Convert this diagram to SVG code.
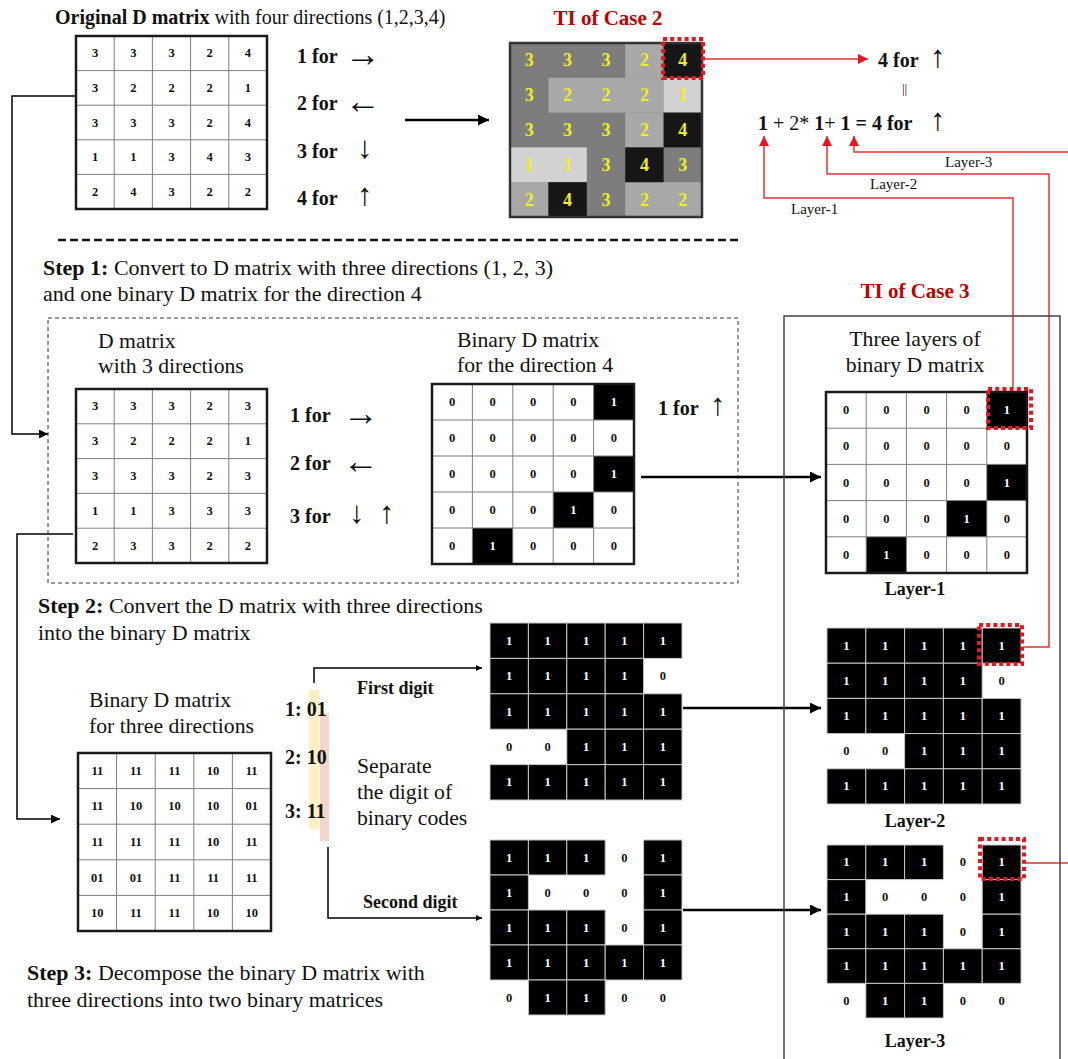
<svg xmlns="http://www.w3.org/2000/svg" width="1068" height="1059" viewBox="0 0 1068 1059">
<defs>
<style>
text{font-family:"Liberation Serif","DejaVu Serif",serif;fill:#111}
.n{font-size:12.5px;font-weight:bold;text-anchor:middle;dominant-baseline:central}
.w{fill:#fff}
.y{font-size:18px;font-weight:bold;text-anchor:middle;dominant-baseline:central;fill:#f2ee1c}
.ob{fill:none;stroke:#1a1a1a;stroke-width:2.5}
.gl{fill:none;stroke:#7f7f7f;stroke-width:1}
.bk{fill:#000;stroke:#c8c8c8;stroke-width:1}
.lab{font-size:20px;font-weight:bold}
.reg{font-size:21.7px}
.st{font-size:22px}
.b{font-weight:bold}
.ah{font-weight:normal;font-size:36px}
.av{font-weight:normal;font-size:31px}
.red{fill:#c00000;font-size:21px;font-weight:bold;text-anchor:middle}
.rd{fill:none;stroke:#e8141e;stroke-width:4;stroke-dasharray:4 3.2}
.cb{fill:none;stroke:#000;stroke-width:2.5}
.ct{fill:none;stroke:#000;stroke-width:1.5}
.cr{fill:none;stroke:#e83030;stroke-width:1.5}
.ll{font-size:15px}
.lay{font-size:18px;font-weight:bold;text-anchor:middle}
</style>
<marker id="ab" viewBox="0 0 10 10" refX="10" refY="5" markerWidth="14" markerHeight="11" markerUnits="userSpaceOnUse" orient="auto"><path d="M0,0 L10,5 L0,10 z" fill="#000"/></marker>
<marker id="at" viewBox="0 0 10 10" refX="10" refY="5" markerWidth="12" markerHeight="9" markerUnits="userSpaceOnUse" orient="auto"><path d="M0,0 L10,5 L0,10 z" fill="#000"/></marker>
<marker id="as" viewBox="0 0 10 10" refX="10" refY="5" markerWidth="9" markerHeight="6" markerUnits="userSpaceOnUse" orient="auto"><path d="M0,0 L10,5 L0,10 z" fill="#000"/></marker>
<marker id="ar" viewBox="0 0 10 10" refX="10" refY="5" markerWidth="12" markerHeight="10" markerUnits="userSpaceOnUse" orient="auto"><path d="M0,0 L10,5 L0,10 z" fill="#e8141e"/></marker>
</defs>
<rect width="1068" height="1059" fill="#fff"/>

<!-- connectors -->
<g id="connectors">
<path class="cb" d="M405 120H489" marker-end="url(#ab)"/>
<path class="cb" d="M641 477H821" marker-end="url(#ab)"/>
<path class="cb" d="M683 708H821" marker-end="url(#ab)"/>
<path class="cb" d="M683 910H821" marker-end="url(#ab)"/>
<path class="ct" d="M76 96H12V434H48" marker-end="url(#at)"/>
<path class="ct" d="M73 534H17V819H60" marker-end="url(#at)"/>
<path class="ct" d="M314 683V668H482" marker-end="url(#as)"/>
<path class="ct" d="M328 847V918H482" marker-end="url(#as)"/>
<path class="cr" d="M705 59H868" marker-end="url(#ar)"/>
<path class="cr" d="M1013 388V198H764V136" marker-end="url(#ar)"/>
<path class="cr" d="M1023 647H1049V174H827V136" marker-end="url(#ar)"/>
<path class="cr" d="M1025 863H1069V152H854V136" marker-end="url(#ar)"/>
</g>

<!-- texts / headers -->
<g id="headers">
<text x="55" y="24" style="font-size:20px"><tspan class="b">Original D matrix</tspan> with four directions (1,2,3,4)</text>
<text class="red" x="608" y="25">TI of Case 2</text>
<text class="red" x="915" y="298">TI of Case 3</text>
<path d="M58 240H738" fill="none" stroke="#111" stroke-width="2.5" stroke-dasharray="8 4"/>
<text class="st" x="43" y="275"><tspan class="b">Step 1:</tspan> Convert to D matrix with three directions (1, 2, 3)</text>
<text class="st" x="43" y="301">and one binary D matrix for the direction 4</text>
<text class="st" x="38" y="613"><tspan class="b">Step 2:</tspan> Convert the D matrix with three directions</text>
<text class="st" x="38" y="640">into the binary D matrix</text>
<text class="st" x="27" y="980"><tspan class="b">Step 3:</tspan> Decompose the binary D matrix with</text>
<text class="st" x="27" y="1007">three directions into two binary matrices</text>
</g>

<g id="legend1">
<text class="lab" x="297" y="63">1 for <tspan class="ah" x="345" dy="3">→</tspan></text>
<text class="lab" x="297" y="110">2 for <tspan class="ah" x="345" dy="3">←</tspan></text>
<text class="lab" x="297" y="158">3 for <tspan class="av" x="357">↓</tspan></text>
<text class="lab" x="297" y="205">4 for <tspan class="av" x="357">↑</tspan></text>
</g>

<g id="equation">
<text class="lab" x="878" y="67">4 for <tspan class="av" x="930">↑</tspan></text>
<text x="902" y="93" style="font-size:13px">||</text>
<text x="758" y="130" style="font-size:20px"><tspan class="b">1</tspan> + 2* <tspan class="b">1</tspan>+ <tspan class="b">1 = 4 for</tspan> <tspan class="av" x="930">↑</tspan></text>
<text class="ll" x="945" y="167">Layer-3</text>
<text class="ll" x="870" y="189">Layer-2</text>
<text class="ll" x="791" y="214">Layer-1</text>
</g>

<!-- Original D matrix -->
<g id="m1" transform="translate(76,36)">
<path class="gl" d="M38.2 0V173M76.4 0V173M114.6 0V173M152.8 0V173M0 34.6H191M0 69.2H191M0 103.8H191M0 138.4H191"/>
<rect class="ob" width="191" height="173"/>
<text class="n" x="19.1" y="17.3">3</text><text class="n" x="57.3" y="17.3">3</text><text class="n" x="95.5" y="17.3">3</text><text class="n" x="133.7" y="17.3">2</text><text class="n" x="171.9" y="17.3">4</text>
<text class="n" x="19.1" y="51.9">3</text><text class="n" x="57.3" y="51.9">2</text><text class="n" x="95.5" y="51.9">2</text><text class="n" x="133.7" y="51.9">2</text><text class="n" x="171.9" y="51.9">1</text>
<text class="n" x="19.1" y="86.5">3</text><text class="n" x="57.3" y="86.5">3</text><text class="n" x="95.5" y="86.5">3</text><text class="n" x="133.7" y="86.5">2</text><text class="n" x="171.9" y="86.5">4</text>
<text class="n" x="19.1" y="121.1">1</text><text class="n" x="57.3" y="121.1">1</text><text class="n" x="95.5" y="121.1">3</text><text class="n" x="133.7" y="121.1">4</text><text class="n" x="171.9" y="121.1">3</text>
<text class="n" x="19.1" y="155.7">2</text><text class="n" x="57.3" y="155.7">4</text><text class="n" x="95.5" y="155.7">3</text><text class="n" x="133.7" y="155.7">2</text><text class="n" x="171.9" y="155.7">2</text>
</g>

<!-- TI of case 2 -->
<g id="ti2" transform="translate(510,43)">
<rect width="192" height="174" fill="#7d7d7d"/>
<g fill="#a8a8a8">
<rect x="115.2" y="0" width="38.4" height="34.8"/>
<rect x="38.4" y="34.8" width="115.2" height="34.8"/>
<rect x="115.2" y="69.6" width="38.4" height="34.8"/>
<rect x="0" y="139.2" width="38.4" height="34.8"/>
<rect x="115.2" y="139.2" width="76.8" height="34.8"/>
</g>
<g fill="#d2d2d2">
<rect x="153.6" y="34.8" width="38.4" height="34.8"/>
<rect x="0" y="104.4" width="76.8" height="34.8"/>
</g>
<g fill="#161616">
<rect x="153.6" y="0" width="38.4" height="34.8"/>
<rect x="153.6" y="69.6" width="38.4" height="34.8"/>
<rect x="115.2" y="104.4" width="38.4" height="34.8"/>
<rect x="38.4" y="139.2" width="38.4" height="34.8"/>
</g>
<rect width="192" height="174" fill="none" stroke="#333" stroke-width="2.5"/>
<text class="y" x="19.2" y="17.4">3</text><text class="y" x="57.6" y="17.4">3</text><text class="y" x="96" y="17.4">3</text><text class="y" x="134.4" y="17.4">2</text><text class="y" x="172.8" y="17.4">4</text>
<text class="y" x="19.2" y="52.2">3</text><text class="y" x="57.6" y="52.2">2</text><text class="y" x="96" y="52.2">2</text><text class="y" x="134.4" y="52.2">2</text><text class="y" x="172.8" y="52.2">1</text>
<text class="y" x="19.2" y="87">3</text><text class="y" x="57.6" y="87">3</text><text class="y" x="96" y="87">3</text><text class="y" x="134.4" y="87">2</text><text class="y" x="172.8" y="87">4</text>
<text class="y" x="19.2" y="121.8">1</text><text class="y" x="57.6" y="121.8">1</text><text class="y" x="96" y="121.8">3</text><text class="y" x="134.4" y="121.8">4</text><text class="y" x="172.8" y="121.8">3</text>
<text class="y" x="19.2" y="156.6">2</text><text class="y" x="57.6" y="156.6">4</text><text class="y" x="96" y="156.6">3</text><text class="y" x="134.4" y="156.6">2</text><text class="y" x="172.8" y="156.6">2</text>
<rect class="rd" x="153" y="-4" width="40" height="39"/>
</g>

<!-- Step 1 dashed box -->
<g id="step1box">
<rect x="48" y="318" width="690" height="265" fill="none" stroke="#333" stroke-width="1" stroke-dasharray="4 3"/>
<text class="reg" x="98" y="348">D matrix</text>
<text class="reg" x="98" y="373">with 3 directions</text>
<text class="reg" x="457" y="347">Binary D matrix</text>
<text class="reg" x="457" y="372">for the direction 4</text>
<text class="lab" x="290" y="422">1 for <tspan class="ah" x="343" dy="3">→</tspan></text>
<text class="lab" x="290" y="470">2 for <tspan class="ah" x="343" dy="3">←</tspan></text>
<text class="lab" x="290" y="523">3 for <tspan class="av" x="349">↓</tspan><tspan class="av" x="379">↑</tspan></text>
<text class="lab" x="658" y="415">1 for <tspan class="av" x="710">↑</tspan></text>
</g>

<!-- D matrix with 3 directions -->
<g id="m2" transform="translate(76,389)">
<path class="gl" d="M38.2 0V174M76.4 0V174M114.6 0V174M152.8 0V174M0 34.8H191M0 69.6H191M0 104.4H191M0 139.2H191"/>
<rect class="ob" width="191" height="174"/>
<text class="n" x="19.1" y="17.4">3</text><text class="n" x="57.3" y="17.4">3</text><text class="n" x="95.5" y="17.4">3</text><text class="n" x="133.7" y="17.4">2</text><text class="n" x="171.9" y="17.4">3</text>
<text class="n" x="19.1" y="52.2">3</text><text class="n" x="57.3" y="52.2">2</text><text class="n" x="95.5" y="52.2">2</text><text class="n" x="133.7" y="52.2">2</text><text class="n" x="171.9" y="52.2">1</text>
<text class="n" x="19.1" y="87">3</text><text class="n" x="57.3" y="87">3</text><text class="n" x="95.5" y="87">3</text><text class="n" x="133.7" y="87">2</text><text class="n" x="171.9" y="87">3</text>
<text class="n" x="19.1" y="121.8">1</text><text class="n" x="57.3" y="121.8">1</text><text class="n" x="95.5" y="121.8">3</text><text class="n" x="133.7" y="121.8">3</text><text class="n" x="171.9" y="121.8">3</text>
<text class="n" x="19.1" y="156.6">2</text><text class="n" x="57.3" y="156.6">3</text><text class="n" x="95.5" y="156.6">3</text><text class="n" x="133.7" y="156.6">2</text><text class="n" x="171.9" y="156.6">2</text>
</g>

<!-- Binary D matrix for direction 4 -->
<g id="m3" transform="translate(432,384)">
<rect x="161.6" y="0" width="40.4" height="36" fill="#000"/>
<rect x="161.6" y="72" width="40.4" height="36" fill="#000"/>
<rect x="121.2" y="108" width="40.4" height="36" fill="#000"/>
<rect x="40.4" y="144" width="40.4" height="36" fill="#000"/>
<path class="gl" d="M40.4 0V180M80.8 0V180M121.2 0V180M161.6 0V180M0 36H202M0 72H202M0 108H202M0 144H202"/>
<rect class="ob" width="202" height="180"/>
<text class="n" x="20.2" y="18">0</text><text class="n" x="60.6" y="18">0</text><text class="n" x="101" y="18">0</text><text class="n" x="141.4" y="18">0</text><text class="n w" x="181.8" y="18">1</text>
<text class="n" x="20.2" y="54">0</text><text class="n" x="60.6" y="54">0</text><text class="n" x="101" y="54">0</text><text class="n" x="141.4" y="54">0</text><text class="n" x="181.8" y="54">0</text>
<text class="n" x="20.2" y="90">0</text><text class="n" x="60.6" y="90">0</text><text class="n" x="101" y="90">0</text><text class="n" x="141.4" y="90">0</text><text class="n w" x="181.8" y="90">1</text>
<text class="n" x="20.2" y="126">0</text><text class="n" x="60.6" y="126">0</text><text class="n" x="101" y="126">0</text><text class="n w" x="141.4" y="126">1</text><text class="n" x="181.8" y="126">0</text>
<text class="n" x="20.2" y="162">0</text><text class="n w" x="60.6" y="162">1</text><text class="n" x="101" y="162">0</text><text class="n" x="141.4" y="162">0</text><text class="n" x="181.8" y="162">0</text>
</g>

<!-- TI of Case 3 box -->
<g id="ti3">
<rect x="784" y="316" width="276" height="760" fill="none" stroke="#444" stroke-width="1.5"/>
<text class="reg" x="915" y="346" text-anchor="middle">Three layers of</text>
<text class="reg" x="915" y="372" text-anchor="middle">binary D matrix</text>
<text class="lay" x="915" y="595">Layer-1</text>
<text class="lay" x="915" y="827">Layer-2</text>
<text class="lay" x="915" y="1047">Layer-3</text>
</g>

<!-- Layer-1 -->
<g id="layer1" transform="translate(826,392)">
<rect x="160.8" y="0" width="40.2" height="36.2" fill="#000"/>
<rect x="160.8" y="72.4" width="40.2" height="36.2" fill="#000"/>
<rect x="120.6" y="108.6" width="40.2" height="36.2" fill="#000"/>
<rect x="40.2" y="144.8" width="40.2" height="36.2" fill="#000"/>
<path class="gl" d="M40.2 0V181M80.4 0V181M120.6 0V181M160.8 0V181M0 36.2H201M0 72.4H201M0 108.6H201M0 144.8H201"/>
<rect class="ob" width="201" height="181"/>
<text class="n" x="20.1" y="18.1">0</text><text class="n" x="60.3" y="18.1">0</text><text class="n" x="100.5" y="18.1">0</text><text class="n" x="140.7" y="18.1">0</text><text class="n w" x="180.9" y="18.1">1</text>
<text class="n" x="20.1" y="54.3">0</text><text class="n" x="60.3" y="54.3">0</text><text class="n" x="100.5" y="54.3">0</text><text class="n" x="140.7" y="54.3">0</text><text class="n" x="180.9" y="54.3">0</text>
<text class="n" x="20.1" y="90.5">0</text><text class="n" x="60.3" y="90.5">0</text><text class="n" x="100.5" y="90.5">0</text><text class="n" x="140.7" y="90.5">0</text><text class="n w" x="180.9" y="90.5">1</text>
<text class="n" x="20.1" y="126.7">0</text><text class="n" x="60.3" y="126.7">0</text><text class="n" x="100.5" y="126.7">0</text><text class="n w" x="140.7" y="126.7">1</text><text class="n" x="180.9" y="126.7">0</text>
<text class="n" x="20.1" y="162.9">0</text><text class="n w" x="60.3" y="162.9">1</text><text class="n" x="100.5" y="162.9">0</text><text class="n" x="140.7" y="162.9">0</text><text class="n" x="180.9" y="162.9">0</text>
<rect class="rd" x="162" y="-3" width="43" height="39"/>
</g>

<!-- Step 2 region -->
<g id="step2labels">
<text class="reg" x="89" y="707">Binary D matrix</text>
<text class="reg" x="89" y="733">for three directions</text>
<rect x="309" y="690" width="10" height="139" fill="#fcefc2"/>
<rect x="320" y="713" width="9" height="128" fill="#f6d6ca"/>
<text class="lab" x="285" y="716">1: 01</text>
<text class="lab" x="285" y="764">2: 10</text>
<text class="lab" x="285" y="818">3: 11</text>
<text x="357" y="694" style="font-size:18px;font-weight:bold">First digit</text>
<text x="363" y="908" style="font-size:18px;font-weight:bold">Second digit</text>
<text class="reg" x="357" y="773">Separate</text>
<text class="reg" x="357" y="799">the digit of</text>
<text class="reg" x="357" y="825">binary codes</text>
</g>

<!-- Binary D matrix for three directions -->
<g id="m4" transform="translate(78,753)">
<path class="gl" d="M38.6 0V178M77.2 0V178M115.8 0V178M154.4 0V178M0 35.6H193M0 71.2H193M0 106.8H193M0 142.4H193"/>
<rect class="ob" width="193" height="178"/>
<text class="n" x="19.3" y="17.8">11</text><text class="n" x="57.9" y="17.8">11</text><text class="n" x="96.5" y="17.8">11</text><text class="n" x="135.1" y="17.8">10</text><text class="n" x="173.7" y="17.8">11</text>
<text class="n" x="19.3" y="53.4">11</text><text class="n" x="57.9" y="53.4">10</text><text class="n" x="96.5" y="53.4">10</text><text class="n" x="135.1" y="53.4">10</text><text class="n" x="173.7" y="53.4">01</text>
<text class="n" x="19.3" y="89">11</text><text class="n" x="57.9" y="89">11</text><text class="n" x="96.5" y="89">11</text><text class="n" x="135.1" y="89">10</text><text class="n" x="173.7" y="89">11</text>
<text class="n" x="19.3" y="124.6">01</text><text class="n" x="57.9" y="124.6">01</text><text class="n" x="96.5" y="124.6">11</text><text class="n" x="135.1" y="124.6">11</text><text class="n" x="173.7" y="124.6">11</text>
<text class="n" x="19.3" y="160.2">10</text><text class="n" x="57.9" y="160.2">11</text><text class="n" x="96.5" y="160.2">11</text><text class="n" x="135.1" y="160.2">10</text><text class="n" x="173.7" y="160.2">10</text>
</g>

<!-- First digit matrix -->
<g id="firstdigit" transform="translate(490,623)">
<rect class="bk" x="0" y="0" width="38.4" height="35.4"/><rect class="bk" x="38.4" y="0" width="38.4" height="35.4"/><rect class="bk" x="76.8" y="0" width="38.4" height="35.4"/><rect class="bk" x="115.2" y="0" width="38.4" height="35.4"/><rect class="bk" x="153.6" y="0" width="38.4" height="35.4"/>
<rect class="bk" x="0" y="35.4" width="38.4" height="35.4"/><rect class="bk" x="38.4" y="35.4" width="38.4" height="35.4"/><rect class="bk" x="76.8" y="35.4" width="38.4" height="35.4"/><rect class="bk" x="115.2" y="35.4" width="38.4" height="35.4"/>
<rect class="bk" x="0" y="70.8" width="38.4" height="35.4"/><rect class="bk" x="38.4" y="70.8" width="38.4" height="35.4"/><rect class="bk" x="76.8" y="70.8" width="38.4" height="35.4"/><rect class="bk" x="115.2" y="70.8" width="38.4" height="35.4"/><rect class="bk" x="153.6" y="70.8" width="38.4" height="35.4"/>
<rect class="bk" x="76.8" y="106.2" width="38.4" height="35.4"/><rect class="bk" x="115.2" y="106.2" width="38.4" height="35.4"/><rect class="bk" x="153.6" y="106.2" width="38.4" height="35.4"/>
<rect class="bk" x="0" y="141.6" width="38.4" height="35.4"/><rect class="bk" x="38.4" y="141.6" width="38.4" height="35.4"/><rect class="bk" x="76.8" y="141.6" width="38.4" height="35.4"/><rect class="bk" x="115.2" y="141.6" width="38.4" height="35.4"/><rect class="bk" x="153.6" y="141.6" width="38.4" height="35.4"/>
<text class="n w" x="19.2" y="17.7">1</text><text class="n w" x="57.6" y="17.7">1</text><text class="n w" x="96" y="17.7">1</text><text class="n w" x="134.4" y="17.7">1</text><text class="n w" x="172.8" y="17.7">1</text>
<text class="n w" x="19.2" y="53.1">1</text><text class="n w" x="57.6" y="53.1">1</text><text class="n w" x="96" y="53.1">1</text><text class="n w" x="134.4" y="53.1">1</text><text class="n" x="172.8" y="53.1">0</text>
<text class="n w" x="19.2" y="88.5">1</text><text class="n w" x="57.6" y="88.5">1</text><text class="n w" x="96" y="88.5">1</text><text class="n w" x="134.4" y="88.5">1</text><text class="n w" x="172.8" y="88.5">1</text>
<text class="n" x="19.2" y="123.9">0</text><text class="n" x="57.6" y="123.9">0</text><text class="n w" x="96" y="123.9">1</text><text class="n w" x="134.4" y="123.9">1</text><text class="n w" x="172.8" y="123.9">1</text>
<text class="n w" x="19.2" y="159.3">1</text><text class="n w" x="57.6" y="159.3">1</text><text class="n w" x="96" y="159.3">1</text><text class="n w" x="134.4" y="159.3">1</text><text class="n w" x="172.8" y="159.3">1</text>
</g>

<!-- Second digit matrix -->
<g id="seconddigit" transform="translate(490,840)">
<rect class="bk" x="0" y="0" width="38.4" height="35"/><rect class="bk" x="38.4" y="0" width="38.4" height="35"/><rect class="bk" x="76.8" y="0" width="38.4" height="35"/><rect class="bk" x="153.6" y="0" width="38.4" height="35"/>
<rect class="bk" x="0" y="35" width="38.4" height="35"/><rect class="bk" x="153.6" y="35" width="38.4" height="35"/>
<rect class="bk" x="0" y="70" width="38.4" height="35"/><rect class="bk" x="38.4" y="70" width="38.4" height="35"/><rect class="bk" x="76.8" y="70" width="38.4" height="35"/><rect class="bk" x="153.6" y="70" width="38.4" height="35"/>
<rect class="bk" x="0" y="105" width="38.4" height="35"/><rect class="bk" x="38.4" y="105" width="38.4" height="35"/><rect class="bk" x="76.8" y="105" width="38.4" height="35"/><rect class="bk" x="115.2" y="105" width="38.4" height="35"/><rect class="bk" x="153.6" y="105" width="38.4" height="35"/>
<rect class="bk" x="38.4" y="140" width="38.4" height="35"/><rect class="bk" x="76.8" y="140" width="38.4" height="35"/>
<text class="n w" x="19.2" y="17.5">1</text><text class="n w" x="57.6" y="17.5">1</text><text class="n w" x="96" y="17.5">1</text><text class="n" x="134.4" y="17.5">0</text><text class="n w" x="172.8" y="17.5">1</text>
<text class="n w" x="19.2" y="52.5">1</text><text class="n" x="57.6" y="52.5">0</text><text class="n" x="96" y="52.5">0</text><text class="n" x="134.4" y="52.5">0</text><text class="n w" x="172.8" y="52.5">1</text>
<text class="n w" x="19.2" y="87.5">1</text><text class="n w" x="57.6" y="87.5">1</text><text class="n w" x="96" y="87.5">1</text><text class="n" x="134.4" y="87.5">0</text><text class="n w" x="172.8" y="87.5">1</text>
<text class="n w" x="19.2" y="122.5">1</text><text class="n w" x="57.6" y="122.5">1</text><text class="n w" x="96" y="122.5">1</text><text class="n w" x="134.4" y="122.5">1</text><text class="n w" x="172.8" y="122.5">1</text>
<text class="n" x="19.2" y="157.5">0</text><text class="n w" x="57.6" y="157.5">1</text><text class="n w" x="96" y="157.5">1</text><text class="n" x="134.4" y="157.5">0</text><text class="n" x="172.8" y="157.5">0</text>
</g>

<!-- Layer-2 -->
<g id="layer2" transform="translate(827,628)">
<rect class="bk" x="0" y="0" width="38.8" height="35.2"/><rect class="bk" x="38.8" y="0" width="38.8" height="35.2"/><rect class="bk" x="77.6" y="0" width="38.8" height="35.2"/><rect class="bk" x="116.4" y="0" width="38.8" height="35.2"/><rect class="bk" x="155.2" y="0" width="38.8" height="35.2"/>
<rect class="bk" x="0" y="35.2" width="38.8" height="35.2"/><rect class="bk" x="38.8" y="35.2" width="38.8" height="35.2"/><rect class="bk" x="77.6" y="35.2" width="38.8" height="35.2"/><rect class="bk" x="116.4" y="35.2" width="38.8" height="35.2"/>
<rect class="bk" x="0" y="70.4" width="38.8" height="35.2"/><rect class="bk" x="38.8" y="70.4" width="38.8" height="35.2"/><rect class="bk" x="77.6" y="70.4" width="38.8" height="35.2"/><rect class="bk" x="116.4" y="70.4" width="38.8" height="35.2"/><rect class="bk" x="155.2" y="70.4" width="38.8" height="35.2"/>
<rect class="bk" x="77.6" y="105.6" width="38.8" height="35.2"/><rect class="bk" x="116.4" y="105.6" width="38.8" height="35.2"/><rect class="bk" x="155.2" y="105.6" width="38.8" height="35.2"/>
<rect class="bk" x="0" y="140.8" width="38.8" height="35.2"/><rect class="bk" x="38.8" y="140.8" width="38.8" height="35.2"/><rect class="bk" x="77.6" y="140.8" width="38.8" height="35.2"/><rect class="bk" x="116.4" y="140.8" width="38.8" height="35.2"/><rect class="bk" x="155.2" y="140.8" width="38.8" height="35.2"/>
<text class="n w" x="19.4" y="17.6">1</text><text class="n w" x="58.2" y="17.6">1</text><text class="n w" x="97" y="17.6">1</text><text class="n w" x="135.8" y="17.6">1</text><text class="n w" x="174.6" y="17.6">1</text>
<text class="n w" x="19.4" y="52.8">1</text><text class="n w" x="58.2" y="52.8">1</text><text class="n w" x="97" y="52.8">1</text><text class="n w" x="135.8" y="52.8">1</text><text class="n" x="174.6" y="52.8">0</text>
<text class="n w" x="19.4" y="88">1</text><text class="n w" x="58.2" y="88">1</text><text class="n w" x="97" y="88">1</text><text class="n w" x="135.8" y="88">1</text><text class="n w" x="174.6" y="88">1</text>
<text class="n" x="19.4" y="123.2">0</text><text class="n" x="58.2" y="123.2">0</text><text class="n w" x="97" y="123.2">1</text><text class="n w" x="135.8" y="123.2">1</text><text class="n w" x="174.6" y="123.2">1</text>
<text class="n w" x="19.4" y="158.4">1</text><text class="n w" x="58.2" y="158.4">1</text><text class="n w" x="97" y="158.4">1</text><text class="n w" x="135.8" y="158.4">1</text><text class="n w" x="174.6" y="158.4">1</text>
<rect class="rd" x="152" y="-3" width="43" height="39"/>
</g>

<!-- Layer-3 -->
<g id="layer3" transform="translate(827,845)">
<rect class="bk" x="0" y="0" width="38.8" height="34.6"/><rect class="bk" x="38.8" y="0" width="38.8" height="34.6"/><rect class="bk" x="77.6" y="0" width="38.8" height="34.6"/><rect class="bk" x="155.2" y="0" width="38.8" height="34.6"/>
<rect class="bk" x="0" y="34.6" width="38.8" height="34.6"/><rect class="bk" x="155.2" y="34.6" width="38.8" height="34.6"/>
<rect class="bk" x="0" y="69.2" width="38.8" height="34.6"/><rect class="bk" x="38.8" y="69.2" width="38.8" height="34.6"/><rect class="bk" x="77.6" y="69.2" width="38.8" height="34.6"/><rect class="bk" x="155.2" y="69.2" width="38.8" height="34.6"/>
<rect class="bk" x="0" y="103.8" width="38.8" height="34.6"/><rect class="bk" x="38.8" y="103.8" width="38.8" height="34.6"/><rect class="bk" x="77.6" y="103.8" width="38.8" height="34.6"/><rect class="bk" x="116.4" y="103.8" width="38.8" height="34.6"/><rect class="bk" x="155.2" y="103.8" width="38.8" height="34.6"/>
<rect class="bk" x="38.8" y="138.4" width="38.8" height="34.6"/><rect class="bk" x="77.6" y="138.4" width="38.8" height="34.6"/>
<text class="n w" x="19.4" y="17.3">1</text><text class="n w" x="58.2" y="17.3">1</text><text class="n w" x="97" y="17.3">1</text><text class="n" x="135.8" y="17.3">0</text><text class="n w" x="174.6" y="17.3">1</text>
<text class="n w" x="19.4" y="51.9">1</text><text class="n" x="58.2" y="51.9">0</text><text class="n" x="97" y="51.9">0</text><text class="n" x="135.8" y="51.9">0</text><text class="n w" x="174.6" y="51.9">1</text>
<text class="n w" x="19.4" y="86.5">1</text><text class="n w" x="58.2" y="86.5">1</text><text class="n w" x="97" y="86.5">1</text><text class="n" x="135.8" y="86.5">0</text><text class="n w" x="174.6" y="86.5">1</text>
<text class="n w" x="19.4" y="121.1">1</text><text class="n w" x="58.2" y="121.1">1</text><text class="n w" x="97" y="121.1">1</text><text class="n w" x="135.8" y="121.1">1</text><text class="n w" x="174.6" y="121.1">1</text>
<text class="n" x="19.4" y="155.7">0</text><text class="n w" x="58.2" y="155.7">1</text><text class="n w" x="97" y="155.7">1</text><text class="n" x="135.8" y="155.7">0</text><text class="n" x="174.6" y="155.7">0</text>
<rect class="rd" x="153" y="-6" width="44" height="40"/>
</g>
</svg>
